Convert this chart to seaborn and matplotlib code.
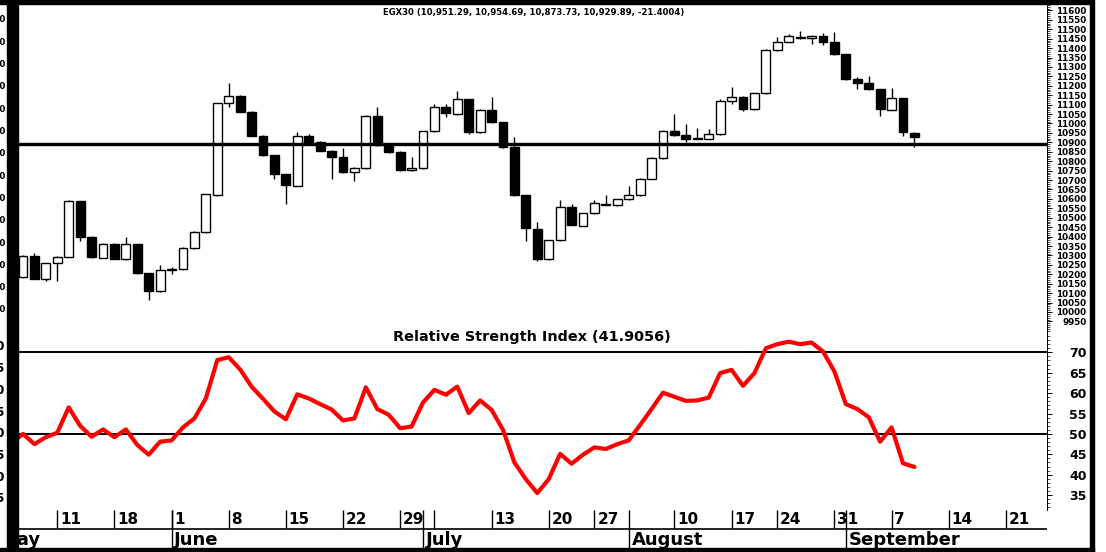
import numpy as np
import pandas as pd
import matplotlib
matplotlib.use("Agg")
import matplotlib.pyplot as plt
import seaborn as sns
from matplotlib.patches import Rectangle
from matplotlib.ticker import MultipleLocator

# ---------------------------------------------------------------------------
# EGX30 daily candles (trading-day index 0..78)
opens = [10187, 10297, 10173, 10258, 10293, 10589, 10399, 10288, 10361, 10281,
         10361, 10205, 10110, 10224, 10226, 10338, 10423, 10621, 11107, 11146,
         11063, 10935, 10833, 10732, 10668, 10934, 10903, 10856, 10821, 10743,
         10764, 11040, 10886, 10850, 10752, 10764, 10959, 11087, 11050, 11128,
         10955, 11072, 11006, 10874, 10619, 10442, 10280, 10380, 10557, 10458,
         10524, 10569, 10566, 10598, 10619, 10706, 10815, 10962, 10937, 10919,
         10919, 10944, 11119, 11142, 11077, 11160, 11390, 11434, 11460, 11452,
         11464, 11434, 11367, 11234, 11213, 11181, 11072, 11134, 10951.29]
highs = [10305, 10315, 10260, 10295, 10592, 10590, 10402, 10368, 10365, 10400,
         10363, 10207, 10249, 10240, 10344, 10430, 10627, 11110, 11213, 11150,
         11066, 10937, 10835, 10734, 10955, 10943, 10905, 10858, 10868, 10767,
         11043, 11086, 10888, 10852, 10821, 10962, 11104, 11103, 11172, 11131,
         11075, 11139, 11008, 10930, 10621, 10476, 10383, 10594, 10571, 10527,
         10594, 10622, 10601, 10670, 10709, 10821, 10965, 11049, 10997, 10978,
         10969, 11132, 11192, 11145, 11163, 11393, 11460, 11475, 11491, 11467,
         11478, 11487, 11370, 11245, 11254, 11184, 11190, 11136, 10954.69]
lows = [10180, 10173, 10166, 10163, 10290, 10378, 10287, 10286, 10279, 10278,
        10203, 10064, 10107, 10201, 10224, 10335, 10420, 10618, 11086, 11060,
        10932, 10830, 10704, 10573, 10666, 10900, 10853, 10704, 10740, 10695,
        10761, 10883, 10845, 10748, 10750, 10761, 10956, 11036, 11047, 10944,
        10952, 11003, 10868, 10616, 10377, 10272, 10276, 10377, 10459, 10455,
        10521, 10566, 10563, 10596, 10617, 10703, 10812, 10936, 10900, 10917,
        10917, 10941, 11102, 11068, 11074, 11157, 11387, 11431, 11449, 11422,
        11416, 11364, 11231, 11181, 11178, 11040, 11069, 10935, 10873.73]
closes = [10297, 10176, 10258, 10293, 10589, 10399, 10290, 10361, 10281, 10361,
          10205, 10113, 10223, 10228, 10341, 10426, 10624, 11107, 11146, 11063,
          10935, 10833, 10732, 10674, 10934, 10903, 10856, 10824, 10743, 10764,
          11040, 10886, 10850, 10753, 10764, 10959, 11087, 11054, 11128, 10957,
          11072, 11006, 10874, 10619, 10444, 10283, 10380, 10557, 10462, 10524,
          10577, 10573, 10598, 10619, 10706, 10815, 10962, 10939, 10919, 10921,
          10944, 11119, 11142, 11077, 11160, 11390, 11434, 11464, 11452, 11464,
          11434, 11367, 11234, 11213, 11181, 11075, 11134, 10955, 10929.89]

support_level = 10890

# RSI, first value belongs to the day before the first visible candle
rsi_values = [47.7, 50.0, 47.5, 49.2, 50.3, 56.5, 52.0, 49.3, 51.1, 49.2,
              51.1, 47.3, 44.9, 48.1, 48.4, 51.6, 53.8, 58.7, 68.1, 68.8,
              65.8, 61.6, 58.6, 55.5, 53.6, 59.7, 58.7, 57.3, 56.0, 53.3,
              53.8, 61.4, 56.1, 54.7, 51.4, 51.8, 57.7, 60.8, 59.6, 61.6,
              55.1, 58.2, 55.9, 51.0, 43.0, 38.9, 35.5, 38.9, 45.1, 42.7,
              44.9, 46.7, 46.3, 47.5, 48.4, 52.2, 56.1, 60.1, 59.1, 58.1,
              58.2, 58.9, 64.9, 65.7, 61.8, 64.9, 71.0, 72.0, 72.6, 72.0,
              72.4, 70.2, 65.3, 57.3, 56.1, 54.1, 48.1, 51.6, 42.8, 41.9]
rsi_levels = [70, 50]

# date axis (positions in trading-day index)
day_ticks = [3, 8, 13, 18, 23, 28, 33, 36, 41, 46, 50, 57, 62, 66, 71, 76, 81, 86]
day_labels = ["11", "18", "1", "8", "15", "22", "29", "", "13", "20", "27",
              "10", "17", "24", "31", "7", "14", "21"]
month_starts = [-2.3, 13, 35, 53, 72]
month_labels = ["May", "June", "July", "August", "September"]

price_ticks = list(range(9950, 11601, 50))
rsi_ticks = [35, 40, 45, 50, 55, 60, 65, 70]

# ---------------------------------------------------------------------------
W, H = 1106, 552
sns.set_style("white")
plt.rcParams["font.family"] = ["DejaVu Sans"]
plt.rcParams["font.weight"] = "bold"
for key in ["text.color", "axes.labelcolor", "xtick.color", "ytick.color"]:
    plt.rcParams[key] = "black"

fig = plt.figure(figsize=(W / 100, H / 100), dpi=100)


def px_rect(x0, y0, x1, y1):
    return [x0 / W, 1 - y1 / H, (x1 - x0) / W, (y1 - y0) / H]


XLIM = (-0.437, 89.6)

# price panel -----------------------------------------------------------
ax = fig.add_axes(px_rect(18, 4, 1047, 332))
idx = np.arange(len(opens))
o, h, l, c = map(np.asarray, (opens, highs, lows, closes))
up = c >= o
ax.vlines(idx, l, h, color="black", lw=1.0, zorder=2)
ax.bar(idx, np.maximum(np.abs(c - o), 1.5), bottom=np.minimum(o, c), width=0.78,
       color=np.where(up, "white", "black"), edgecolor="black", lw=1.0, zorder=3)
ax.axhline(support_level, color="black", lw=2.4, zorder=4)
ax.set_xlim(*XLIM)
ax.set_ylim(9893.9, 11633.9)
ax.set_xticks([])
ax.yaxis.tick_right()
ax.set_yticks(price_ticks)
ax.set_yticklabels([str(v) for v in price_ticks])
ax.yaxis.set_minor_locator(MultipleLocator(10))
ax.tick_params(axis="y", which="major", direction="out", length=3.5, width=0.7,
               pad=25, labelsize=6.3, right=True, colors="black")
ax.tick_params(axis="y", which="minor", direction="out", length=2, width=0.5,
               right=True, colors="black")
plt.setp(ax.yaxis.get_majorticklabels(), ha="right", fontweight="bold")
for side in ["left", "top", "bottom"]:
    ax.spines[side].set_visible(False)
ax.spines["right"].set_linewidth(0.7)
ax.spines["right"].set_color("black")

# RSI panel -------------------------------------------------------------
ax_r = fig.add_axes(px_rect(18, 332, 1047, 510))
rsi_df = pd.DataFrame({"day": np.arange(-1, len(rsi_values) - 1), "rsi": rsi_values})
sns.lineplot(data=rsi_df, x="day", y="rsi", ax=ax_r, color="#ff0000", lw=3.0, zorder=3)
for lvl in rsi_levels:
    ax_r.axhline(lvl, color="black", lw=1.4, zorder=2)
ax_r.set_xlim(*XLIM)
ax_r.set_ylim(31.35, 74.98)
ax_r.set_xticks([])
ax_r.set_xlabel("")
ax_r.set_ylabel("")
ax_r.yaxis.tick_right()
ax_r.set_yticks(rsi_ticks)
ax_r.set_yticklabels([str(v) for v in rsi_ticks])
ax_r.yaxis.set_minor_locator(MultipleLocator(1))
ax_r.tick_params(axis="y", which="major", direction="out", length=3.5, width=0.7,
                 pad=25, labelsize=9, right=True, colors="black")
ax_r.tick_params(axis="y", which="minor", direction="out", length=2, width=0.5,
                 right=True, colors="black")
plt.setp(ax_r.yaxis.get_majorticklabels(), ha="right", fontweight="bold")
for side in ["left", "top", "bottom"]:
    ax_r.spines[side].set_visible(False)
ax_r.spines["right"].set_linewidth(0.7)
ax_r.spines["right"].set_color("black")
ax_r.patch.set_alpha(0)

# date band -------------------------------------------------------------
ax_d = fig.add_axes(px_rect(18, 510, 1047, 548))
ax_d.set_xlim(*XLIM)
ax_d.set_ylim(548, 510)
ax_d.axis("off")
ax_d.vlines(day_ticks, 510, 528, color="black", lw=1.0)
ax_d.vlines(month_starts[1:], 510, 548, color="black", lw=1.0)
ax_d.hlines(529, XLIM[0], XLIM[1], color="black", lw=1.2)
for t, lab in zip(day_ticks, day_labels):
    ax_d.text(t + 0.25, 520, lab, fontsize=11, fontweight="bold", ha="left",
              va="center", color="black", clip_on=True)
for t, lab in zip(month_starts, month_labels):
    ax_d.text(t + 0.25, 540, lab, fontsize=13, fontweight="bold", ha="left",
              va="center", color="black", clip_on=True)

# titles ------------------------------------------------------------------
fig.text(534 / W, 1 - 12.5 / H,
         "EGX30 (10,951.29, 10,954.69, 10,873.73, 10,929.89, -21.4004)",
         ha="center", va="center", fontsize=6.1, fontweight="bold", color="black")
fig.text(532 / W, 1 - 337 / H, "Relative Strength Index (41.9056)",
         ha="center", va="center", fontsize=10.4, fontweight="bold", color="black")

# cut-off labels of a left scale peeking out behind the frame
for k, yy in enumerate(20 + 22.3 * np.arange(14)):
    fig.text(5.0 / W, 1 - yy / H, "11600", ha="right", va="center",
             fontsize=6.3, fontweight="bold", color="black")
for k, yy in enumerate(347 + 21.7 * np.arange(8)):
    fig.text(5.0 / W, 1 - yy / H, str(rsi_ticks[::-1][k]), ha="right", va="center",
             fontsize=9, fontweight="bold", color="black")

# black frame -------------------------------------------------------------
for x0, y0, x1, y1 in [(0, 0, 1093, 4), (7, 0, 18, 552), (1090, 0, 1094, 552),
                       (0, 548, 1094, 552)]:
    fig.patches.append(Rectangle((x0 / W, 1 - y1 / H), (x1 - x0) / W, (y1 - y0) / H,
                                 transform=fig.transFigure, color="black", zorder=10))

fig.savefig("out.png", dpi=100, facecolor="white")
